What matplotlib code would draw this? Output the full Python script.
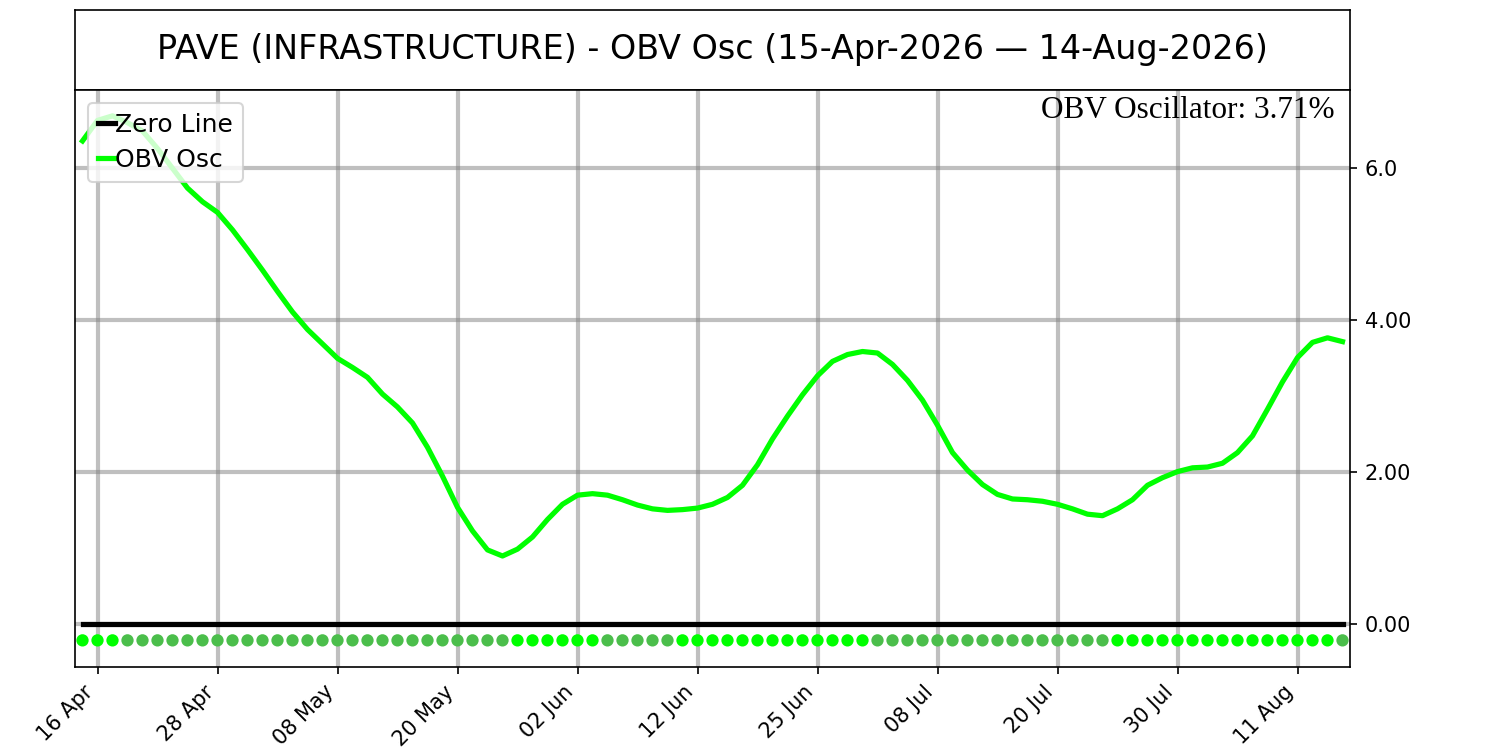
import numpy as np
import pandas as pd
import matplotlib
matplotlib.use('Agg')
import matplotlib.pyplot as plt
from matplotlib.ticker import FixedLocator, FixedFormatter

# Trading days 15 Apr - 14 Aug 2026 (US market holidays removed)
holidays = ['2026-05-25', '2026-06-19', '2026-07-03']
dates = pd.bdate_range('2026-04-15', '2026-08-14')
dates = dates[~dates.isin(pd.to_datetime(holidays))]

# OBV oscillator values (%)
obv_osc = [6.35, 6.62, 6.68, 6.59, 6.48, 6.25, 5.99, 5.73, 5.55, 5.41,
           5.18, 4.92, 4.65, 4.37, 4.10, 3.87, 3.68, 3.49, 3.37, 3.24,
           3.02, 2.85, 2.64, 2.32, 1.94, 1.53, 1.22, 0.97, 0.89, 0.98,
           1.14, 1.37, 1.57, 1.69, 1.71, 1.69, 1.63, 1.56, 1.51, 1.49,
           1.50, 1.52, 1.57, 1.66, 1.82, 2.09, 2.43, 2.73, 3.01, 3.26,
           3.45, 3.54, 3.58, 3.56, 3.41, 3.20, 2.94, 2.61, 2.25, 2.02,
           1.83, 1.70, 1.64, 1.63, 1.61, 1.57, 1.51, 1.44, 1.42, 1.51,
           1.63, 1.82, 1.92, 2.00, 2.05, 2.06, 2.11, 2.25, 2.47, 2.82,
           3.18, 3.50, 3.70, 3.76, 3.71]

ytick_vals = [0, 2, 4, 6]
ytick_labels = ['0.00', '2.00', '4.00', '6.0']

title = 'PAVE (INFRASTRUCTURE) - OBV Osc (15-Apr-2026 \u2014 14-Aug-2026)'
last_label = 'OBV Oscillator: 3.71%'

x = np.arange(len(obv_osc))
osc = np.array(obv_osc)

# rising days bright green, falling days darker green
slope = np.diff(osc, prepend=osc[0])
dot_colors = np.where(slope >= 0, '#00ff00', '#4bbe4b')

fig = plt.figure(figsize=(10, 5), dpi=150)

# title box
tax = fig.add_axes([0.05, 0.88, 0.85, 0.1067])
tax.set_xticks([])
tax.set_yticks([])
tax.text(0.5, 0.5, title, ha='center', va='center', fontsize=16)

ax = fig.add_axes([0.05, 0.1107, 0.85, 0.7693])
ax.grid(True, color='gray', alpha=0.5, linewidth=2)
ax.set_axisbelow(True)

ax.plot(x, np.zeros(len(x)), color='black', linewidth=2.5, label='Zero Line')
ax.plot(x, osc, color='#00ff00', linewidth=2.5, label='OBV Osc')
ax.scatter(x, np.full(len(x), -0.22), c=dot_colors, s=24, zorder=3)

ax.set_xlim(-0.5, len(x) - 0.5)
ax.set_ylim(-0.57, 7.02)

tick_idx = list(range(1, len(x), 8))
ax.set_xticks(tick_idx)
ax.set_xticklabels([dates[i].strftime('%d %b') for i in tick_idx],
                   rotation=45, ha='right')

ax.yaxis.tick_right()
ax.yaxis.set_major_locator(FixedLocator(ytick_vals))
ax.yaxis.set_major_formatter(FixedFormatter(ytick_labels))

ax.text(0.988, 0.99, last_label, transform=ax.transAxes, ha='right', va='top',
        fontsize=15, family='Liberation Serif')

ax.legend(loc='upper left', fontsize=12, handlelength=0.7, handletextpad=0.0,
          labelspacing=0.45)

fig.savefig('out.png', dpi=150)
